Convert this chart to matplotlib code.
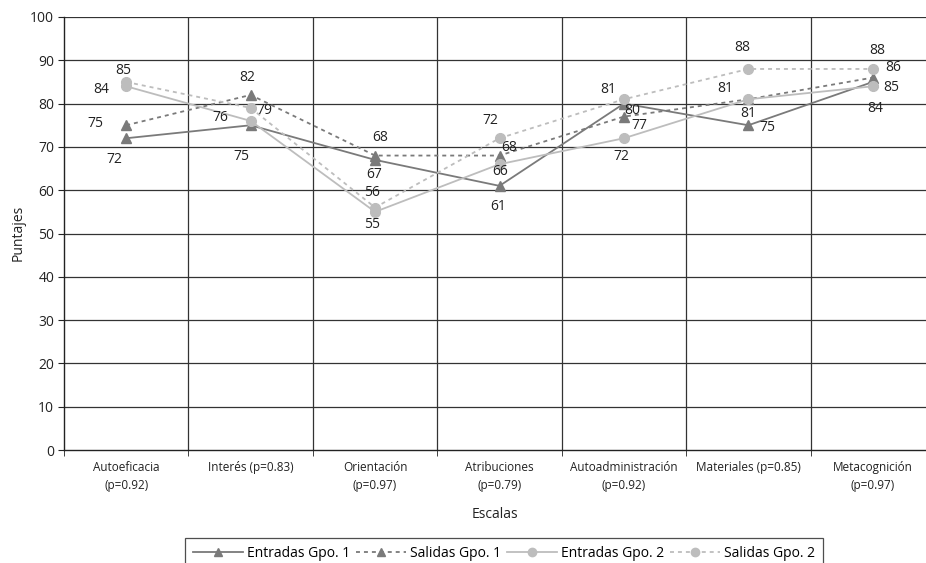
import matplotlib
matplotlib.use("Agg")
import matplotlib.pyplot as plt
from matplotlib.lines import Line2D

categories = ["Autoeficacia\n(p=0.92)", "Interés (p=0.83)", "Orientación\n(p=0.97)",
              "Atribuciones\n(p=0.79)", "Autoadministración\n(p=0.92)",
              "Materiales (p=0.85)", "Metacognición\n(p=0.97)"]
entradas_g1 = [72, 75, 67, 61, 80, 75, 85]
salidas_g1 = [75, 82, 68, 68, 77, 81, 86]
entradas_g2 = [84, 76, 55, 66, 72, 81, 84]
salidas_g2 = [85, 79, 56, 72, 81, 88, 88]
series_names = ["Entradas Gpo. 1", "Salidas Gpo. 1", "Entradas Gpo. 2", "Salidas Gpo. 2"]
y_ticks = list(range(0, 101, 10))

# label offsets in pixels (dx, dy_down)
off_e1 = [(-12, 21), (-9, 31), (-1, 15), (-1, 21), (8, 7), (19, 2), (18, 6)]
off_s1 = [(-31, -2), (-3, -17), (5, -18), (10, -8), (15, 9), (0, 14), (20, -10)]
off_e2 = [(-25, 3), (-30, -3), (-3, 13), (1, 7), (-3, 18), (-23, -11), (2, 22)]
off_s2 = [(-3, -11), (14, 3), (-3, -15), (-9, -18), (-16, -10), (-6, -21), (4, -18)]

plt.rcParams['font.family'] = ['Open Sans', 'DejaVu Sans']

fig = plt.figure(figsize=(9.26, 5.63), dpi=100)
ax = fig.add_axes([64/926, 113/563, (935-64)/926, (450-17)/563])

dark = "#7a7a7a"
light = "#bdbdbd"
x = list(range(len(categories)))

styles = [
    (entradas_g1, dark, "-", "^", off_e1),
    (salidas_g1, dark, (0, (2.2, 2.2)), "^", off_s1),
    (entradas_g2, light, "-", "o", off_e2),
    (salidas_g2, light, (0, (2.2, 2.2)), "o", off_s2),
]

ax.set_xlim(-0.5, 6.5)
ax.set_ylim(0, 100)
ax.set_yticks(y_ticks)
for yv in y_ticks[1:]:
    ax.axhline(yv, color="#333333", lw=0.9, zorder=1)
for xv in [0.5, 1.5, 2.5, 3.5, 4.5, 5.5]:
    ax.axvline(xv, color="#333333", lw=0.9, zorder=1)

handles = []
for (vals, col, ls, mk, offs), name in zip(styles, series_names):
    ax.plot(x, vals, color=col, linestyle=ls, lw=1.3, marker=mk, markersize=7,
            markeredgecolor=col, markerfacecolor=col, zorder=3)
    handles.append(Line2D([], [], color=col, linestyle=ls, lw=1.3, marker=mk,
                          markersize=6, markeredgecolor=col, markerfacecolor=col))
    for xi, v, (dx, dy) in zip(x, vals, offs):
        ax.annotate(str(v), (xi, v), xytext=(dx * 0.72, -dy * 0.72), textcoords="offset points",
                    ha="center", va="center", fontsize=10, color="#222222", zorder=4)

ax.set_xticks(x)
ax.set_xticklabels(categories, fontsize=8.5, color="#222222", linespacing=1.5)
ax.set_xticks([-0.5, 0.5, 1.5, 2.5, 3.5, 4.5, 5.5, 6.5], minor=True)
ax.tick_params(axis="x", which="major", length=0, pad=8)
ax.tick_params(axis="x", which="minor", length=4, color="#222222")
ax.tick_params(axis="y", length=4, color="#222222", labelsize=10, labelcolor="#222222", pad=3)

for s in ["top", "right"]:
    ax.spines[s].set_visible(False)
ax.spines["left"].set_color("#222222")
ax.spines["bottom"].set_color("#222222")
ax.spines["left"].set_linewidth(1.0)
ax.spines["bottom"].set_linewidth(1.0)

fig.text(18/926, 1 - 233/563, "Puntajes", rotation=90, ha="center", va="center",
         fontsize=10, color="#222222")
fig.text(495/926, 1 - 515/563, "Escalas", ha="center", va="center",
         fontsize=10, color="#222222")

leg = fig.legend(handles, series_names, loc="upper center", bbox_to_anchor=(504/926, 1 - 538/563),
                 ncol=4, frameon=True, fancybox=False, fontsize=10, handlelength=3.6,
                 handletextpad=0.3, columnspacing=0.4, borderpad=0.6, borderaxespad=0)
leg.get_frame().set_edgecolor("#222222")
leg.get_frame().set_linewidth(0.9)

fig.savefig("out.png", dpi=100)
